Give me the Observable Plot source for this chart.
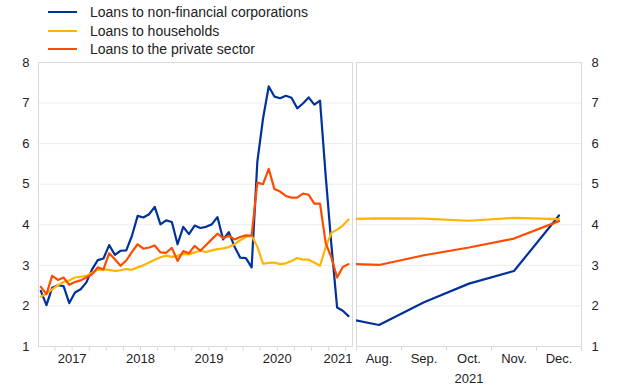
<!DOCTYPE html>
<html><head><meta charset="utf-8">
<script src="https://cdn.jsdelivr.net/npm/d3@7"></script>
<script src="https://cdn.jsdelivr.net/npm/@observablehq/plot@0.6"></script>
<style>
body{margin:0;background:#fff;font-family:"Liberation Sans",Arial,sans-serif;}
#wrap{position:relative;width:620px;height:387px;overflow:hidden;}
.row{position:absolute;left:48px;height:18px;display:flex;align-items:center;font-size:14px;color:#222;white-space:nowrap}
.sw{width:29px;height:2px;margin-right:13px}
#left{position:absolute;left:0;top:50px}
#right{position:absolute;left:355px;top:50px}
</style></head><body>
<div id="wrap"><div id="legend"></div><div id="left"></div><div id="right"></div></div>
<script>
// Series
const seriesNames = ["Loans to non-financial corporations", "Loans to households", "Loans to the private sector"];
const seriesColors = ["#003299", "#ffb400", "#ff4b00"];

// Left panel: monthly, Jan 2017 – Jul 2021
const startYear = 2017;
const yearLabels = ["2017", "2018", "2019", "2020", "2021"];
const nfcMonthly = [2.37,2.02,2.45,2.51,2.49,2.07,2.33,2.41,2.58,2.90,3.13,3.17,
  3.50,3.26,3.36,3.37,3.73,4.22,4.18,4.26,4.44,4.01,4.11,4.07,
  3.52,3.95,3.77,3.98,3.92,3.95,4.01,4.19,3.64,3.82,3.46,3.19,
  3.18,2.95,5.55,6.62,7.41,7.16,7.12,7.18,7.13,6.87,6.99,7.14,
  6.96,7.06,5.20,3.50,1.96,1.88,1.75];
const hhMonthly = [2.23,2.30,2.41,2.51,2.59,2.63,2.70,2.72,2.74,2.82,2.89,2.90,
  2.89,2.86,2.88,2.91,2.89,2.95,3.00,3.07,3.14,3.20,3.24,3.21,
  3.24,3.28,3.27,3.32,3.36,3.33,3.37,3.40,3.42,3.45,3.52,3.62,
  3.70,3.73,3.46,3.04,3.06,3.07,3.03,3.05,3.11,3.18,3.14,3.14,
  3.07,2.99,3.45,3.80,3.88,3.98,4.13];
const pvtMonthly = [2.47,2.29,2.74,2.64,2.70,2.52,2.59,2.63,2.70,2.78,2.95,2.90,
  3.30,3.15,2.99,3.12,3.33,3.52,3.41,3.44,3.49,3.32,3.31,3.43,
  3.11,3.35,3.30,3.48,3.36,3.50,3.64,3.78,3.67,3.73,3.64,3.70,
  3.74,3.73,5.04,5.00,5.38,4.88,4.82,4.71,4.67,4.67,4.77,4.74,
  4.52,4.52,3.55,3.19,2.70,2.96,3.03];

// Right panel: Jul – Dec 2021 (Jul only as the line's starting point)
const recentMonths = ["Jul.", "Aug.", "Sep.", "Oct.", "Nov.", "Dec."];
const recentYearLabel = "2021";
const nfcRecent = [1.75, 1.53, 2.09, 2.55, 2.86, 4.23];
const hhRecent = [4.13, 4.16, 4.15, 4.10, 4.17, 4.14];
const pvtRecent = [3.05, 3.01, 3.25, 3.44, 3.66, 4.09];

const yTicks = [1, 2, 3, 4, 5, 6, 7, 8];

// Legend
const legend = document.getElementById("legend");
seriesNames.forEach((n, k) => {
  const r = document.createElement("div");
  r.className = "row";
  r.style.top = (3 + k * 18.5) + "px";
  r.innerHTML = `<span class="sw" style="background:${seriesColors[k]}"></span><span>${n}</span>`;
  legend.appendChild(r);
});

const font = '"Liberation Sans", Arial, sans-serif';
const textColor = "#222";
const gridColor = "#ececec";
const frameColor = "#dadada";

const monthlySeries = [nfcMonthly, hhMonthly, pvtMonthly];
const leftData = monthlySeries.flatMap((arr, s) => arr.map((v, i) => ({i, v, name: seriesNames[s]})));
const nMonths = nfcMonthly.length;
const xMaxL = nMonths - 1 + 0.7;
const quarterBounds = d3.range(0, Math.ceil(nMonths / 3)).map(k => -0.5 + 3 * k).filter(v => v > -0.4);
const yearPos = yearLabels.map(y => ({label: y, x: (+y - startYear) * 12 + 5.5}));

const left = Plot.plot({
  width: 355, height: 337,
  marginLeft: 38, marginRight: 3, marginTop: 12, marginBottom: 41,
  x: {domain: [-0.4, xMaxL], axis: null},
  y: {domain: [1, 8], axis: null},
  color: {domain: seriesNames, range: seriesColors},
  style: {fontFamily: font, fontSize: "13px", color: textColor, background: "transparent", overflow: "visible"},
  marks: [
    Plot.ruleY(yTicks, {y: d => d, stroke: gridColor}),
    Plot.frame({stroke: frameColor}),
    Plot.axisY(yTicks, {anchor: "left", tickSize: 0, tickPadding: 9, fontSize: 13, fill: textColor, label: null}),
    Plot.ruleX(quarterBounds, {x: d => d, y1: 1, y2: 0.88, stroke: frameColor}),
    Plot.text(yearPos.slice(0, -1), {x: "x", y: 1, dy: 12, text: "label", fontSize: 13, fill: textColor}),
    Plot.text(yearPos.slice(-1), {x: () => xMaxL, y: 1, dy: 12, text: "label", textAnchor: "end", fontSize: 13, fill: textColor}),
    Plot.line(leftData, {x: "i", y: "v", z: "name", stroke: "name", strokeWidth: 2.2})
  ]
});
document.getElementById("left").appendChild(left);

const recentSeries = [nfcRecent, hhRecent, pvtRecent];
const rightData = recentSeries.flatMap((arr, s) => arr.map((v, j) => ({j: j - 1, v, name: seriesNames[s]})));
const monthPos = recentMonths.map((m, j) => ({label: m, x: j - 1})).filter(d => d.x >= 0);
const monthBounds = d3.range(-0.5, recentMonths.length - 1, 1);

const right = Plot.plot({
  width: 265, height: 337,
  marginLeft: 1, marginRight: 39, marginTop: 12, marginBottom: 41,
  x: {domain: [-0.5, recentMonths.length - 1.5], axis: null},
  y: {domain: [1, 8], axis: null},
  color: {domain: seriesNames, range: seriesColors},
  style: {fontFamily: font, fontSize: "13px", color: textColor, background: "transparent", overflow: "visible"},
  marks: [
    Plot.ruleY(yTicks, {y: d => d, stroke: gridColor}),
    Plot.frame({stroke: frameColor}),
    Plot.axisY(yTicks, {anchor: "right", tickSize: 0, tickPadding: 10, fontSize: 13, fill: textColor, label: null}),
    Plot.ruleX(monthBounds, {x: d => d, y1: 1, y2: 0.88, stroke: frameColor}),
    Plot.text(monthPos, {x: "x", y: 1, dy: 12, text: "label", fontSize: 13, fill: textColor}),
    Plot.text([recentYearLabel], {x: () => 2, y: 1, dy: 32, text: d => d, fontSize: 13, fill: textColor}),
    Plot.line(rightData, {x: "j", y: "v", z: "name", stroke: "name", strokeWidth: 2.2, clip: true})
  ]
});
document.getElementById("right").appendChild(right);
</script>
</body></html>
